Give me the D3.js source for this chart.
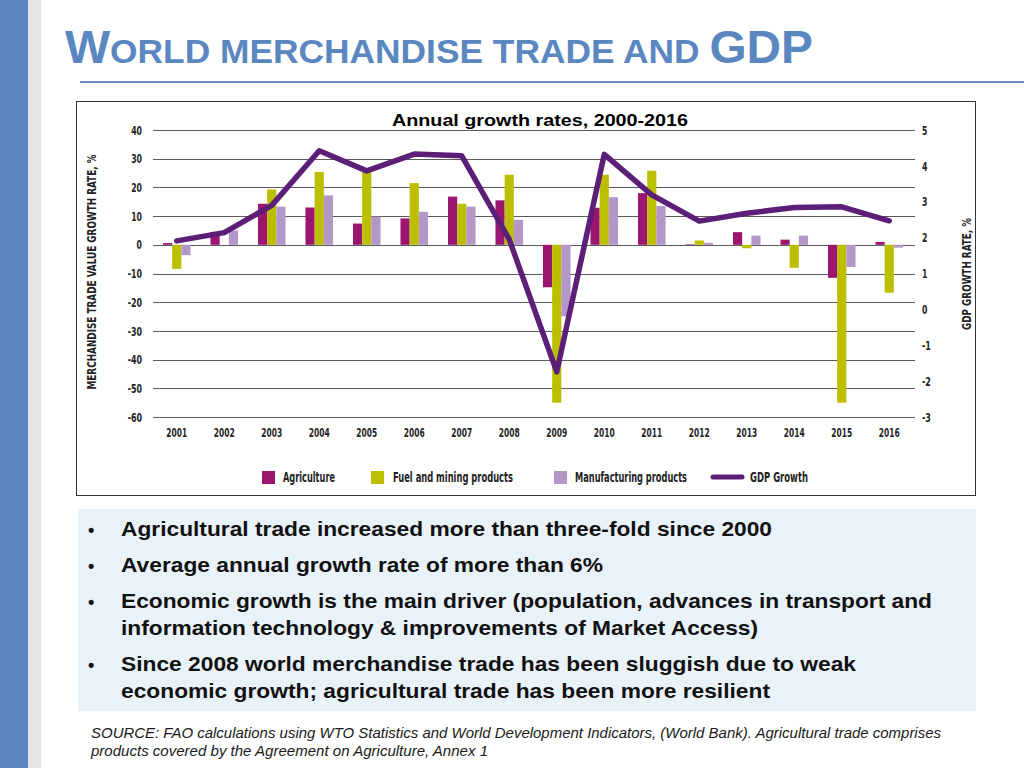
<!DOCTYPE html>
<html>
<head>
<meta charset="utf-8">
<script src="https://cdn.jsdelivr.net/npm/d3@7"></script>
<style>
  html, body { margin: 0; padding: 0; background: #fff; }
  svg { display: block; }
  .cond { font-family: "Liberation Sans Narrow", "DejaVu Sans Condensed", "Roboto Condensed", sans-serif; font-stretch: condensed; font-weight: bold; }
</style>
</head>
<body>
<svg id="chart" width="1024" height="768"></svg>
<script>
// ---------------- data ----------------
const years = ["2001","2002","2003","2004","2005","2006","2007","2008","2009","2010","2011","2012","2013","2014","2015","2016"];
const agriculture = [0.6, 4.5, 14.3, 13.0, 7.4, 9.2, 16.8, 15.5, -14.8, 12.9, 18.0, 0.2, 4.4, 1.8, -11.5, 1.0];
const fuelMining = [-8.4, 0.0, 19.3, 25.4, 25.4, 21.5, 14.3, 24.4, -55.0, 24.4, 25.8, 1.5, -1.2, -8.0, -55.0, -16.7];
const manufacturing = [-3.6, 5.0, 13.3, 17.2, 9.8, 11.5, 13.3, 8.7, -24.9, 16.6, 13.5, 0.7, 3.2, 3.2, -7.7, -1.0];
const gdpGrowth = [1.91, 2.14, 2.9, 4.42, 3.86, 4.33, 4.28, 1.95, -1.74, 4.32, 3.19, 2.46, 2.68, 2.84, 2.86, 2.47];
const leftTicks = [40, 30, 20, 10, 0, -10, -20, -30, -40, -50, -60];
const rightTicks = [5, 4, 3, 2, 1, 0, -1, -2, -3];
const seriesNames = ["Agriculture", "Fuel and mining products", "Manufacturing products"];
const seriesColors = ["#9c166f", "#bcbf00", "#b497c9"];
const lineName = "GDP Growth";
const lineColor = "#5c1f78";
const titleParts = ["W", "ORLD MERCHANDISE TRADE AND ", "GDP"];
const subtitle = "Annual growth rates, 2000-2016";
const leftTitle = "MERCHANDISE TRADE VALUE GROWTH RATE, %";
const rightTitle = "GDP GROWTH RATE, %";
const bullets = [
  ["Agricultural trade increased more than three-fold since 2000"],
  ["Average annual growth rate of more than 6%"],
  ["Economic growth is the main driver (population, advances in transport and", "information technology & improvements of Market Access)"],
  ["Since 2008 world merchandise trade has been sluggish due to weak", "economic growth; agricultural trade has been more resilient"]
];
const sourceLines = [
  "SOURCE: FAO calculations using WTO Statistics and World Development Indicators, (World Bank). Agricultural trade comprises",
  "products covered by the Agreement on Agriculture, Annex 1"
];

// ---------------- drawing ----------------
const svg = d3.select("#chart");

// slide decorations
svg.append("rect").attr("x", 0).attr("y", 0).attr("width", 28).attr("height", 768).attr("fill", "#5b86c0");
svg.append("rect").attr("x", 28).attr("y", 0).attr("width", 13).attr("height", 768).attr("fill", "#e4e4e4");

const title = svg.append("text").attr("x", 65).attr("y", 63)
  .attr("fill", "#5b87c1").attr("font-family", "Liberation Sans, Arial, sans-serif").attr("font-weight", "bold")
  .attr("textLength", 748).attr("lengthAdjust", "spacingAndGlyphs");
title.append("tspan").attr("font-size", 46).text(titleParts[0]);
title.append("tspan").attr("font-size", 34).text(titleParts[1]);
title.append("tspan").attr("font-size", 46).text(titleParts[2]);

svg.append("line").attr("x1", 80).attr("x2", 1024).attr("y1", 82).attr("y2", 82)
  .attr("stroke", "#6a8fc4").attr("stroke-width", 2);

// chart frame
svg.append("rect").attr("x", 76.5).attr("y", 101.5).attr("width", 899).attr("height", 394)
  .attr("fill", "#fff").attr("stroke", "#333").attr("stroke-width", 1);

svg.append("text").attr("x", 540).attr("y", 126).attr("text-anchor", "middle")
  .attr("font-family", "Liberation Sans, Arial, sans-serif").attr("font-weight", "bold").attr("font-size", 16.5)
  .attr("fill", "#000").attr("textLength", 296).attr("lengthAdjust", "spacingAndGlyphs").text(subtitle);

const plotL = 153, plotR = 913, plotT = 130, plotB = 417;
const x = d3.scaleBand().domain(years).range([plotL, plotR]).paddingInner(0.42).paddingOuter(0.21);
const xs = d3.scaleBand().domain(seriesNames).range([0, x.bandwidth()]);
const yL = d3.scaleLinear().domain([-60, 40]).range([plotB, plotT]);
const yR = d3.scaleLinear().domain([-3, 5]).range([plotB, plotT]);

// gridlines
svg.append("g").selectAll("line").data(leftTicks).join("line")
  .attr("x1", plotL).attr("x2", plotR + 2)
  .attr("y1", d => Math.round(yL(d)) + 0.5).attr("y2", d => Math.round(yL(d)) + 0.5)
  .attr("stroke", "#5a5a5a").attr("stroke-width", 1.2);

// narrow each tick label to a condensed width
function narrow(sel, perChar) {
  sel.each(function () {
    const t = d3.select(this);
    const s = t.text();
    const w = s.replace("-", "").length * perChar + (s.includes("-") ? 3.5 : 0);
    t.attr("textLength", w).attr("lengthAdjust", "spacingAndGlyphs");
  });
}

// left axis
const gL = svg.append("g").attr("class", "cond").attr("transform", `translate(${plotL - 4},0)`)
  .call(d3.axisLeft(yL).tickValues(leftTicks).tickSize(0).tickPadding(7).tickFormat(d => String(d)));
gL.select(".domain").remove();
gL.selectAll("text").attr("font-size", 13).attr("fill", "#222").attr("font-family", null).call(narrow, 5.4);

// right axis
const gR = svg.append("g").attr("class", "cond").attr("transform", `translate(${plotR + 2},0)`)
  .call(d3.axisRight(yR).tickValues(rightTicks).tickSize(0).tickPadding(7).tickFormat(d => String(d)));
gR.select(".domain").remove();
gR.selectAll("text").attr("font-size", 13).attr("fill", "#222").attr("font-family", null).call(narrow, 5.4);

// x axis labels
const gX = svg.append("g").attr("class", "cond").attr("transform", `translate(0,${plotB + 5})`)
  .call(d3.axisBottom(x).tickSize(0).tickPadding(6));
gX.select(".domain").remove();
gX.selectAll("text").attr("font-size", 12).attr("fill", "#222").attr("font-family", null).call(narrow, 5.2);

// axis titles
svg.append("text").attr("class", "cond").attr("transform", "translate(96,272) rotate(-90)")
  .attr("text-anchor", "middle").attr("font-size", 13).attr("fill", "#222")
  .attr("textLength", 235).attr("lengthAdjust", "spacingAndGlyphs").text(leftTitle);
svg.append("text").attr("class", "cond").attr("transform", "translate(971,274) rotate(-90)")
  .attr("text-anchor", "middle").attr("font-size", 13).attr("fill", "#222")
  .attr("textLength", 112).attr("lengthAdjust", "spacingAndGlyphs").text(rightTitle);

// bars
const seriesData = [agriculture, fuelMining, manufacturing];
const barData = [];
seriesData.forEach((vals, si) => vals.forEach((v, i) => barData.push({ year: years[i], s: seriesNames[si], c: seriesColors[si], v })));
svg.append("g").selectAll("rect").data(barData).join("rect")
  .attr("x", d => x(d.year) + xs(d.s))
  .attr("width", xs.bandwidth())
  .attr("y", d => yL(Math.max(0, d.v)))
  .attr("height", d => Math.abs(yL(d.v) - yL(0)))
  .attr("fill", d => d.c);

// GDP line
const line = d3.line().x((d, i) => x(years[i]) + x.bandwidth() / 2).y(d => yR(d));
svg.append("path").datum(gdpGrowth).attr("d", line)
  .attr("fill", "none").attr("stroke", lineColor).attr("stroke-width", 5.5)
  .attr("stroke-linejoin", "round").attr("stroke-linecap", "round");

// legend
const legendItems = [
  { name: seriesNames[0], color: seriesColors[0], sx: 262, tx: 283, tw: 52 },
  { name: seriesNames[1], color: seriesColors[1], sx: 371, tx: 393, tw: 120 },
  { name: seriesNames[2], color: seriesColors[2], sx: 554, tx: 575, tw: 112 }
];
const lg = svg.append("g").attr("class", "cond");
legendItems.forEach(it => {
  lg.append("rect").attr("x", it.sx).attr("y", 471).attr("width", 13).attr("height", 13).attr("fill", it.color);
  lg.append("text").attr("x", it.tx).attr("y", 482).attr("font-size", 14).attr("fill", "#222")
    .attr("textLength", it.tw).attr("lengthAdjust", "spacingAndGlyphs").text(it.name);
});
lg.append("line").attr("x1", 713).attr("x2", 742).attr("y1", 477).attr("y2", 477)
  .attr("stroke", lineColor).attr("stroke-width", 5).attr("stroke-linecap", "round");
lg.append("text").attr("x", 750).attr("y", 482).attr("font-size", 14).attr("fill", "#222")
  .attr("textLength", 58).attr("lengthAdjust", "spacingAndGlyphs").text(lineName);

// bullet box
svg.append("rect").attr("x", 78).attr("y", 509).attr("width", 898).attr("height", 202).attr("fill", "#e9f2f8");
const bulletBase = [[536], [572], [608, 635], [671, 698]];
const bulletWidths = [[651], [482], [811, 637], [735, 649]];
const bt = svg.append("g").attr("font-family", "Liberation Sans, Arial, sans-serif").attr("font-weight", "bold")
  .attr("font-size", 21).attr("fill", "#111");
bullets.forEach((lines, bi) => {
  bt.append("text").attr("x", 88).attr("y", bulletBase[bi][0]).attr("font-size", 18).text("•");
  lines.forEach((ln, li) => {
    bt.append("text").attr("x", 121).attr("y", bulletBase[bi][li])
      .attr("textLength", bulletWidths[bi][li]).attr("lengthAdjust", "spacingAndGlyphs").text(ln);
  });
});

// source
const srcW = [850, 397];
sourceLines.forEach((ln, i) => {
  svg.append("text").attr("x", 91).attr("y", 738 + i * 18)
    .attr("font-family", "Liberation Sans, Arial, sans-serif").attr("font-style", "italic")
    .attr("font-size", 14).attr("fill", "#1a1a1a")
    .attr("textLength", srcW[i]).attr("lengthAdjust", "spacingAndGlyphs").text(ln);
});
</script>
</body>
</html>
